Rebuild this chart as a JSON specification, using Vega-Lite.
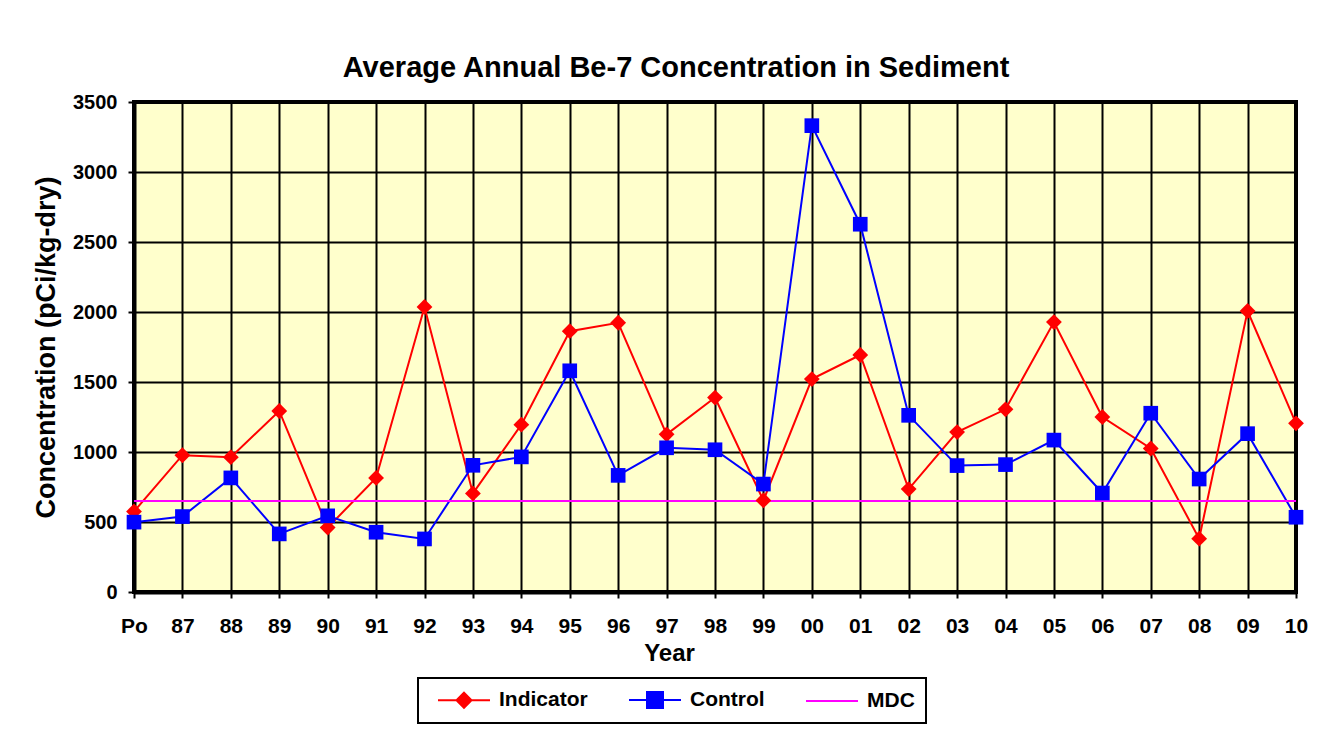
{
  "$schema": "https://vega.github.io/schema/vega-lite/v6.json",
  "width": 1162,
  "height": 490,
  "autosize": {"type": "none"},
  "padding": {"left": 134, "top": 102, "right": 44, "bottom": 148},
  "background": "white",
  "title": {
    "text": "Average Annual Be-7 Concentration in Sediment",
    "font": "Liberation Sans",
    "fontSize": 29,
    "fontWeight": "bold",
    "color": "black",
    "frame": "group",
    "anchor": "middle",
    "dx": -39,
    "baseline": "alphabetic",
    "offset": -14
  },
  "data": {
    "values": [
      {"year": "Po", "series": "Indicator", "value": 575},
      {"year": "87", "series": "Indicator", "value": 977},
      {"year": "88", "series": "Indicator", "value": 963},
      {"year": "89", "series": "Indicator", "value": 1293},
      {"year": "90", "series": "Indicator", "value": 460},
      {"year": "91", "series": "Indicator", "value": 815},
      {"year": "92", "series": "Indicator", "value": 2036},
      {"year": "93", "series": "Indicator", "value": 704},
      {"year": "94", "series": "Indicator", "value": 1195},
      {"year": "95", "series": "Indicator", "value": 1863},
      {"year": "96", "series": "Indicator", "value": 1923},
      {"year": "97", "series": "Indicator", "value": 1126},
      {"year": "98", "series": "Indicator", "value": 1389},
      {"year": "99", "series": "Indicator", "value": 654},
      {"year": "00", "series": "Indicator", "value": 1521},
      {"year": "01", "series": "Indicator", "value": 1693},
      {"year": "02", "series": "Indicator", "value": 735},
      {"year": "03", "series": "Indicator", "value": 1142},
      {"year": "04", "series": "Indicator", "value": 1305},
      {"year": "05", "series": "Indicator", "value": 1928},
      {"year": "06", "series": "Indicator", "value": 1250},
      {"year": "07", "series": "Indicator", "value": 1025},
      {"year": "08", "series": "Indicator", "value": 381},
      {"year": "09", "series": "Indicator", "value": 2007},
      {"year": "10", "series": "Indicator", "value": 1205},
      {"year": "Po", "series": "Control", "value": 499},
      {"year": "87", "series": "Control", "value": 539},
      {"year": "88", "series": "Control", "value": 815},
      {"year": "89", "series": "Control", "value": 415},
      {"year": "90", "series": "Control", "value": 544},
      {"year": "91", "series": "Control", "value": 427},
      {"year": "92", "series": "Control", "value": 379},
      {"year": "93", "series": "Control", "value": 905},
      {"year": "94", "series": "Control", "value": 965},
      {"year": "95", "series": "Control", "value": 1580},
      {"year": "96", "series": "Control", "value": 833},
      {"year": "97", "series": "Control", "value": 1030},
      {"year": "98", "series": "Control", "value": 1016},
      {"year": "99", "series": "Control", "value": 771},
      {"year": "00", "series": "Control", "value": 3331},
      {"year": "01", "series": "Control", "value": 2627},
      {"year": "02", "series": "Control", "value": 1262},
      {"year": "03", "series": "Control", "value": 903},
      {"year": "04", "series": "Control", "value": 910},
      {"year": "05", "series": "Control", "value": 1085},
      {"year": "06", "series": "Control", "value": 707},
      {"year": "07", "series": "Control", "value": 1277},
      {"year": "08", "series": "Control", "value": 807},
      {"year": "09", "series": "Control", "value": 1131},
      {"year": "10", "series": "Control", "value": 534},
      {"year": "Po", "series": "MDC", "value": 650},
      {"year": "87", "series": "MDC", "value": 650},
      {"year": "88", "series": "MDC", "value": 650},
      {"year": "89", "series": "MDC", "value": 650},
      {"year": "90", "series": "MDC", "value": 650},
      {"year": "91", "series": "MDC", "value": 650},
      {"year": "92", "series": "MDC", "value": 650},
      {"year": "93", "series": "MDC", "value": 650},
      {"year": "94", "series": "MDC", "value": 650},
      {"year": "95", "series": "MDC", "value": 650},
      {"year": "96", "series": "MDC", "value": 650},
      {"year": "97", "series": "MDC", "value": 650},
      {"year": "98", "series": "MDC", "value": 650},
      {"year": "99", "series": "MDC", "value": 650},
      {"year": "00", "series": "MDC", "value": 650},
      {"year": "01", "series": "MDC", "value": 650},
      {"year": "02", "series": "MDC", "value": 650},
      {"year": "03", "series": "MDC", "value": 650},
      {"year": "04", "series": "MDC", "value": 650},
      {"year": "05", "series": "MDC", "value": 650},
      {"year": "06", "series": "MDC", "value": 650},
      {"year": "07", "series": "MDC", "value": 650},
      {"year": "08", "series": "MDC", "value": 650},
      {"year": "09", "series": "MDC", "value": 650},
      {"year": "10", "series": "MDC", "value": 650}
    ]
  },
  "encoding": {
    "x": {
      "field": "year",
      "type": "ordinal",
      "sort": ["Po","87","88","89","90","91","92","93","94","95","96","97","98","99","00","01","02","03","04","05","06","07","08","09","10"],
      "scale": {"type": "point", "padding": 0},
      "axis": {
        "title": "Year",
        "labelAngle": 0,
        "labelFontSize": 21,
        "labelPadding": 17,
        "titleFontSize": 24,
        "titleX": 535,
        "titleY": 68,
        "titleBaseline": "alphabetic",
        "titleAlign": "center"
      }
    },
    "y": {
      "field": "value",
      "type": "quantitative",
      "scale": {"domain": [0, 3500], "nice": false},
      "axis": {
        "title": "Concentration (pCi/kg-dry)",
        "values": [0, 500, 1000, 1500, 2000, 2500, 3000, 3500],
        "format": "d",
        "labelFontSize": 20,
        "labelPadding": 11,
        "titleFontSize": 27,
        "titleAngle": -90,
        "titleX": -80,
        "titleY": 245,
        "titleBaseline": "alphabetic",
        "titleAlign": "center"
      }
    }
  },
  "layer": [
    {
      "mark": {"type": "line", "strokeWidth": 2},
      "encoding": {
        "color": {
          "field": "series",
          "type": "nominal",
          "scale": {"domain": ["Indicator", "Control", "MDC"], "range": ["#FF0000", "#0000FF", "#FF00FF"]},
          "legend": {
            "title": null,
            "orient": "none",
            "direction": "horizontal",
            "legendX": 284,
            "legendY": 576,
            "padding": 11,
            "strokeColor": "black",
            "fillColor": "white",
            "symbolSize": 400,
            "symbolStrokeWidth": 2,
            "labelOffset": 48,
            "columnPadding": 32,
            "labelFont": "Liberation Sans",
            "labelFontSize": 21,
            "labelFontWeight": "bold",
            "labelColor": "black",
            "encode": {
              "legend": {"update": {"strokeWidth": {"value": 2}}},
              "symbols": {
                "update": {
                  "shape": {"signal": "datum.value === 'Indicator' ? 'M-0.2,0H5.0M2.4,-0.75L3.15,0L2.4,0.75L1.65,0Z' : (datum.value === 'Control' ? 'M-0.2,0H5.0M1.6,-0.8H3.2V0.8H1.6Z' : 'M-0.2,0H5.0')"},
                  "fill": {"signal": "datum.value === 'Indicator' ? '#FF0000' : (datum.value === 'Control' ? '#0000FF' : 'transparent')"},
                  "strokeWidth": {"value": 2}
                }
              }
            }
          }
        }
      }
    },
    {
      "transform": [{"filter": "datum.series === 'Indicator'"}],
      "mark": {"type": "point", "shape": "diamond", "filled": true, "color": "#FF0000", "size": 250, "opacity": 1}
    },
    {
      "transform": [{"filter": "datum.series === 'Control'"}],
      "mark": {"type": "point", "shape": "square", "filled": true, "color": "#0000FF", "size": 215, "opacity": 1}
    }
  ],
  "config": {
    "font": "Liberation Sans",
    "view": {"fill": "#FFFFCC", "stroke": "black", "strokeWidth": 4},
    "axis": {
      "labelFont": "Liberation Sans",
      "labelFontWeight": "bold",
      "labelColor": "black",
      "titleFont": "Liberation Sans",
      "titleFontWeight": "bold",
      "titleColor": "black",
      "grid": true,
      "gridColor": "black",
      "gridWidth": 2,
      "gridOpacity": 1,
      "domainColor": "black",
      "domainWidth": 4,
      "tickColor": "black",
      "tickWidth": 2,
      "tickSize": 6
    }
  }
}
